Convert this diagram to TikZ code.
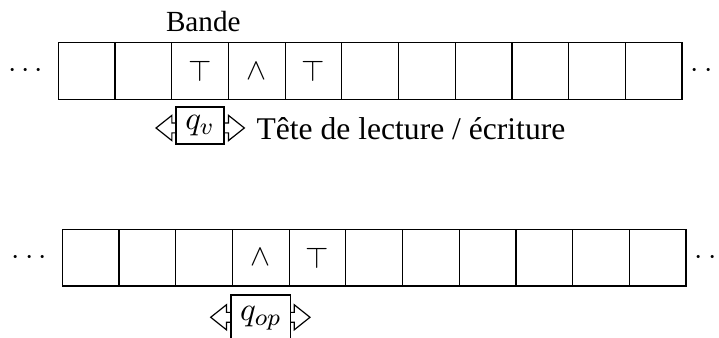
\documentclass[tikz,border=0pt]{standalone}
\usepackage{fontspec}
\setmainfont{Liberation Serif}
\usetikzlibrary{shapes.arrows}
\begin{document}
\begin{tikzpicture}[x=0.33333pt,y=-0.33333pt,
  cell/.style={draw,line width=0.4pt,minimum size=18.9pt,inner sep=0pt,outer sep=0pt,font=\fontsize{10pt}{12pt}\selectfont},
  headarrow/.style={draw,line width=0.4pt,shape=double arrow,double arrow tip angle=77,
    double arrow head extend=2.57pt,inner xsep=0pt,inner ysep=1.43pt},
  headbox/.style={draw,line width=0.4pt,fill=white,inner sep=0pt,font=\fontsize{11pt}{13pt}\selectfont},
  dotsnode/.style={inner sep=0pt,font=\fontsize{10pt}{12pt}\selectfont},
  lbl/.style={inner sep=0pt}]
\useasboundingbox (0,0) rectangle (719,338);
% top tape
\foreach \i/\s in {1/,2/,3/$\top$,4/$\wedge$,5/$\top$,6/,7/,8/,9/,10/,11/}{
  \node[cell] (t\i) at ({29.95+56.7*\i},71) {\s};
}
% bottom tape
\foreach \i/\s in {1/,2/,3/,4/$\wedge$,5/$\top$,6/,7/,8/,9/,10/,11/}{
  \node[cell] (b\i) at ({33.95+56.7*\i},257.6) {\s};
}
\node[dotsnode] (tl) at (25.7,71) {$\cdots$};
\node[dotsnode] (tr) at (708.3,71) {$\cdots$};
\node[dotsnode] (bl) at (29.3,257.6) {$\cdots$};
\node[dotsnode] (br) at (712.3,257.6) {$\cdots$};
\node[lbl,anchor=base] (bande) at (203.3,31.7) {\fontsize{9.73pt}{11pt}\selectfont Bande};
% top head
\node[headarrow,minimum height=29.43pt] (av) at (200.2,128) {};
\node[headbox,minimum width=16pt,minimum height=12.33pt] (qv) at (200,125.5) {$q_v$};
\node[lbl,anchor=base west] (tete) at (256,139.3) {\fontsize{10.53pt}{12pt}\selectfont Tête de lecture / écriture};
% bottom head
\node[headarrow,minimum height=33.1pt] (aop) at (260.35,317.3) {};
\node[headbox,minimum width=19.9pt,minimum height=15.33pt] (qop) at (260.85,318) {$q_{op}$};
\end{tikzpicture}
\end{document}
